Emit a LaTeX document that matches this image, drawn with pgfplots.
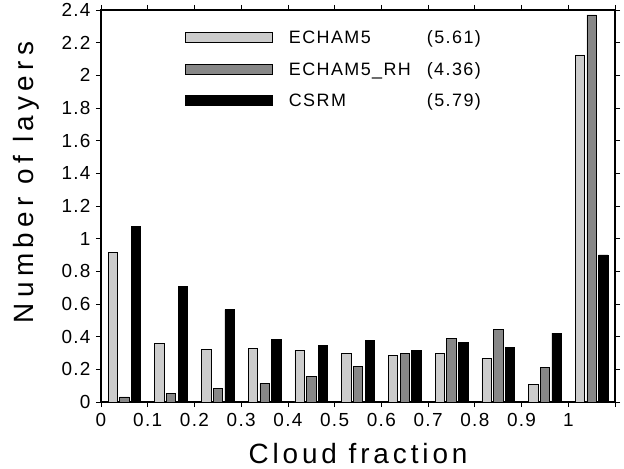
\documentclass[border=0pt]{standalone}
\usepackage{fontspec}
\setmainfont{Liberation Sans}[LetterSpace=7]
\newfontfamily\labelfont{Liberation Sans}[LetterSpace=14]
\newfontfamily\ylabelfont{Liberation Sans}[LetterSpace=19]
\newfontfamily\legfont{Liberation Sans}[LetterSpace=8]
\usepackage{pgfplots}
\pgfplotsset{compat=1.18}
\definecolor{lightbar}{gray}{0.80}
\definecolor{darkbar}{gray}{0.53}
\begin{document}
\begin{tikzpicture}
\begin{axis}[
  scale only axis,
  width=514bp, height=392bp,
  xmin=0, xmax=1.1, ymin=0, ymax=2.4,
  axis line style={line width=1.1pt},
  tick style={line width=0.8pt, black},
  tick align=outside,
  major tick length=5bp,
  xtick={0,0.1,0.2,0.3,0.4,0.5,0.6,0.7,0.8,0.9,1,1.1},
  xticklabels={0,0.1,0.2,0.3,0.4,0.5,0.6,0.7,0.8,0.9,1,{}},
  ytick={0,0.2,0.4,0.6,0.8,1,1.2,1.4,1.6,1.8,2,2.2,2.4},
  yticklabels={0,0.2,0.4,0.6,0.8,1,1.2,1.4,1.6,1.8,2,2.2,2.4},
  tick label style={font=\fontsize{19}{21}\selectfont},
  xticklabel style={yshift=-3bp},
  yticklabel style={xshift=-2bp},
  /pgf/number format/assume math mode=true,
  xlabel={\labelfont Cloud fraction},
  ylabel={\ylabelfont Number of layers},
  label style={font=\fontsize{28}{30}\selectfont},
  xlabel style={at={(axis description cs:0.5,-0.156)}, anchor=base},
  ylabel style={at={(axis description cs:-0.132,0.56)}, anchor=base, rotate=0},
  ybar, bar width=0.02, bar shift=0pt,
  legend style={draw=none, fill=none, at={(axis description cs:0.163,0.953)}, anchor=north west,
    font=\fontsize{18}{20}\selectfont\legfont, row sep=13bp, inner sep=0pt, cells={anchor=west}},
  legend cell align=left,
  legend image code/.code={\draw[#1, line width=0.9pt] (0bp,-5bp) rectangle (87bp,5bp);},
  clip=false,
]
\addplot[draw=black, line width=0.6pt, fill=lightbar] coordinates {
(0.025,0.916) (0.125,0.357) (0.225,0.324) (0.325,0.326) (0.425,0.316) (0.525,0.300)
(0.625,0.283) (0.725,0.296) (0.825,0.269) (0.925,0.106) (1.025,2.125)};
\addlegendentry{\hspace*{14bp}\makebox[138bp][l]{ECHAM5}(5.61)}
\addplot[draw=black, line width=0.6pt, fill=darkbar] coordinates {
(0.05,0.031) (0.15,0.055) (0.25,0.082) (0.35,0.114) (0.45,0.159) (0.55,0.218)
(0.65,0.296) (0.75,0.387) (0.85,0.445) (0.95,0.212) (1.05,2.370)};
\addlegendentry{\hspace*{14bp}\makebox[138bp][l]{ECHAM5\_RH}(4.36)}
\addplot[draw=black, line width=0.6pt, fill=black] coordinates {
(0.075,1.073) (0.175,0.708) (0.275,0.565) (0.375,0.383) (0.475,0.347) (0.575,0.377)
(0.675,0.316) (0.775,0.367) (0.875,0.334) (0.975,0.422) (1.075,0.901)};
\addlegendentry{\hspace*{14bp}\makebox[138bp][l]{CSRM}(5.79)}
\end{axis}
\pgfresetboundingbox
\path[use as bounding box] ([xshift=-101bp,yshift=-67bp]current axis.south west) rectangle ([xshift=9bp,yshift=10bp]current axis.north east);
\end{tikzpicture}
\end{document}
